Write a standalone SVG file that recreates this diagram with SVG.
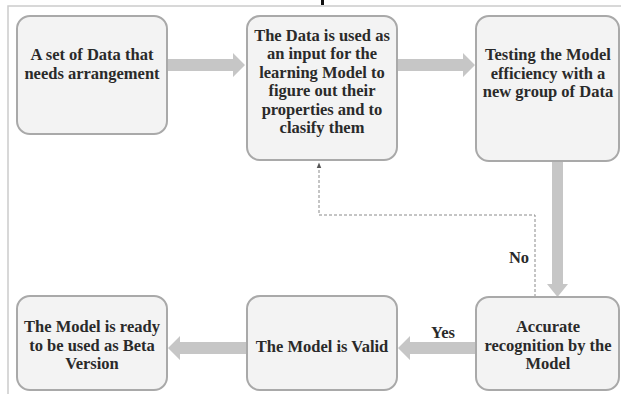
<svg xmlns="http://www.w3.org/2000/svg" width="621" height="394" viewBox="0 0 621 394">
  <defs>
    <style>
      .box { fill: #f3f3f3; stroke: #a9a9a9; stroke-width: 2; }
      .lbl { font-family: "Liberation Serif", "Times New Roman", serif; font-weight: bold; font-size: 16.5px; fill: #2a2a2a; text-anchor: middle; }
      .flow { fill: #c6c6c6; }
      .dash { fill: none; stroke: #8a8a8a; stroke-width: 1; stroke-dasharray: 3 2; }
    </style>
    <marker id="tip" viewBox="0 0 10 10" refX="9" refY="5" markerWidth="6" markerHeight="6" orient="auto">
      <path d="M0,1 L10,5 L0,9 Z" fill="#555555"/>
    </marker>
  </defs>

  <rect width="621" height="394" fill="#ffffff"/>
  <!-- outer frame -->
  <path d="M8,394 V6 H621" fill="none" stroke="#cccccc" stroke-width="1.5"/>
  <rect x="321" y="0" width="3" height="5" fill="#111111"/>

  <!-- connectors -->
  <g id="connectors">
    <!-- data set -> learning model -->
    <path class="flow" d="M168,59 H233 V53 L245,65 L233,77 V71 H168 Z"/>
    <!-- learning model -> testing -->
    <path class="flow" d="M397,59 H463 V53 L475,65 L463,77 V71 H397 Z"/>
    <!-- testing -> recognition -->
    <path class="flow" d="M552,161 H563 V284 H568 L557.5,297 L547,284 H552 Z"/>
    <!-- recognition -> valid (Yes) -->
    <path class="flow" d="M476,342 V354 H410 V360 L398,348 L410,336 V342 Z"/>
    <!-- valid -> ready -->
    <path class="flow" d="M247,342 V354 H180 V360 L168,348 L180,336 V342 Z"/>
    <!-- feedback loop (No) -->
    <path class="dash" d="M535,297 V215 H319 V163" marker-end="url(#tip)"/>
    <text class="lbl" x="443" y="338">Yes</text>
    <text class="lbl" x="519" y="263">No</text>
  </g>

  <g id="node-data">
    <rect class="box" x="17" y="16" width="150" height="118" rx="13"/>
    <text class="lbl" x="92" y="60">A set of Data that</text>
    <text class="lbl" x="92" y="79">needs arrangement</text>
  </g>

  <g id="node-learning">
    <rect class="box" x="247" y="16" width="150" height="144" rx="13"/>
    <text class="lbl" x="322" y="41">The Data is used as</text>
    <text class="lbl" x="322" y="59">an input for the</text>
    <text class="lbl" x="322" y="78">learning Model to</text>
    <text class="lbl" x="322" y="96">figure out their</text>
    <text class="lbl" x="322" y="115">properties and to</text>
    <text class="lbl" x="322" y="133">clasify them</text>
  </g>

  <g id="node-testing">
    <rect class="box" x="476" y="16" width="143" height="145" rx="13"/>
    <text class="lbl" x="548" y="60">Testing the Model</text>
    <text class="lbl" x="548" y="79">efficiency with a</text>
    <text class="lbl" x="548" y="97">new group of Data</text>
  </g>

  <g id="node-recognition">
    <rect class="box" x="476" y="297" width="143" height="93" rx="13"/>
    <text class="lbl" x="548" y="332">Accurate</text>
    <text class="lbl" x="548" y="351">recognition by the</text>
    <text class="lbl" x="548" y="369">Model</text>
  </g>

  <g id="node-valid">
    <rect class="box" x="247" y="296" width="150" height="94" rx="13"/>
    <text class="lbl" x="322" y="352">The Model is Valid</text>
  </g>

  <g id="node-ready">
    <rect class="box" x="17" y="296" width="150" height="94" rx="13"/>
    <text class="lbl" x="92" y="332">The Model is ready</text>
    <text class="lbl" x="92" y="351">to be used as Beta</text>
    <text class="lbl" x="92" y="369">Version</text>
  </g>
</svg>
